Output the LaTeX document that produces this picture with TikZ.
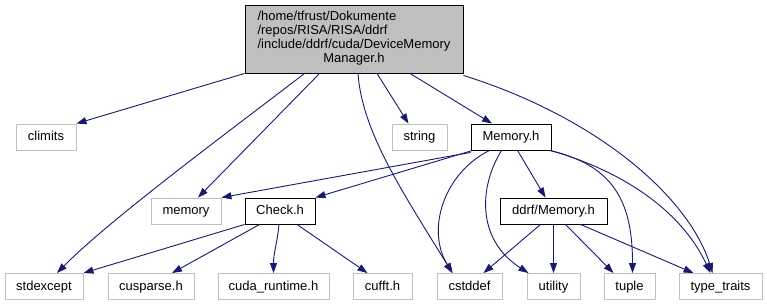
\documentclass[tikz,border=0pt]{standalone}
\usepackage{fontspec}
\setmainfont{Liberation Sans}
\usetikzlibrary{arrows.meta}
\definecolor{edgeblue}{RGB}{25,25,112}
\definecolor{boxgray}{RGB}{191,191,191}
\begin{document}
\begin{tikzpicture}[x=1pt,y=-1pt,
  font=\fontsize{13}{13.9}\selectfont,
  filebox/.style={draw=black,line width=0.9pt,rectangle,inner sep=0pt,
    text height=10pt,text depth=2.6pt,minimum height=26pt},
  sysbox/.style={filebox,draw=boxgray},
  dep/.style={draw=edgeblue,line width=0.9pt,-{Triangle[length=10pt,width=7pt]}}]
\useasboundingbox (0,0) rectangle (767,305);

% header under inspection
\node[draw=black,fill=boxgray,line width=0.9pt,inner sep=0pt,
  minimum width=218pt,minimum height=68pt] (root) at (354,39)
  {\begin{tabular}{@{}l@{}}/home/tfrust/Dokumente\\/repos/RISA/RISA/ddrf\\
   /include/ddrf/cuda/DeviceMemory\\\multicolumn{1}{@{}c@{}}{Manager.h}\end{tabular}};

% second row
\node[sysbox,minimum width=60pt] (climits) at (46,137) {climits};
\node[sysbox,minimum width=55pt] (string) at (419.5,137) {string};
\node[filebox,minimum width=80pt] (memh) at (511,137) {Memory.h};

% third row
\node[sysbox,minimum width=70pt] (memory) at (186,211) {memory};
\node[filebox,minimum width=70pt] (check) at (280,211) {Check.h};
\node[filebox,minimum width=107pt] (ddrfmem) at (553.5,211) {ddrf/Memory.h};

% bottom row
\node[sysbox,minimum width=78pt] (stdexcept) at (44,286.5) {stdexcept};
\node[sysbox,minimum width=86pt] (cusparse) at (151,286.5) {cusparse.h};
\node[sysbox,minimum width=111pt] (cudart) at (273.5,286.5) {cuda\_runtime.h};
\node[sysbox,minimum width=59pt] (cufft) at (382.5,286.5) {cufft.h};
\node[sysbox,minimum width=65pt] (cstddef) at (469.5,286.5) {cstddef};
\node[sysbox,minimum width=53pt] (utility) at (553.5,286.5) {utility};
\node[sysbox,minimum width=51pt] (tuple) at (629.5,286.5) {tuple};
\node[sysbox,minimum width=83pt] (typetraits) at (720.5,286.5) {type\_traits};

% includes of the header
\draw[dep] (root.south west) -- (climits.north east);
\draw[dep] ([xshift=60pt]root.south west) .. controls +(-65,50) and +(53,-54) .. ([xshift=13pt]stdexcept.north);
\draw[dep] ([xshift=75pt]root.south west) -- ([xshift=12pt]memory.north);
\draw[dep] ([xshift=4pt]root.south) .. controls +(4,57) and +(-52,-84) .. ([xshift=-17pt]cstddef.north);
\draw[dep] ([xshift=23pt]root.south) -- ([xshift=-11pt]string.north);
\draw[dep] ([xshift=56pt]root.south) -- ([xshift=-19pt]memh.north);
\draw[dep] ([yshift=-2pt]root.south east) .. controls +(137,43) and +(-23,-74) .. ([xshift=-8pt]typetraits.north);

% includes of Memory.h
\draw[dep] ([yshift=-2pt]memh.south west) -- (memory.north east);
\draw[dep] ([xshift=2pt]memh.south west) -- (check.north east);
\draw[dep] ([xshift=19pt]memh.south west) .. controls +(-45,22) and +(-27,-44) .. ([xshift=-17pt]cstddef.north);
\draw[dep] ([xshift=31pt]memh.south west) .. controls +(-22,35) and +(-53,-34) .. ([xshift=-25pt]utility.north);
\draw[dep] ([xshift=47pt]memh.south west) -- ([xshift=-8pt]ddrfmem.north);
\draw[dep] ([xshift=-2pt]memh.south east) .. controls +(66,15) and +(0,-69) .. ([xshift=3pt]tuple.north);
\draw[dep] ([xshift=-1pt]memh.south east) .. controls +(70,20) and +(-30,-64) .. ([xshift=-10pt]typetraits.north);

% includes of Check.h
\draw[dep] (check.south west) -- (stdexcept.north east);
\draw[dep] ([xshift=15pt]check.south west) -- ([xshift=21pt]cusparse.north);
\draw[dep] ([xshift=-1pt]check.south) .. controls +(-2,20) and +(0,-20) .. (cudart.north);
\draw[dep] ([xshift=17pt]check.south) -- ([xshift=-15pt]cufft.north);

% includes of ddrf/Memory.h
\draw[dep] ([xshift=-13pt]ddrfmem.south) -- ([xshift=14pt]cstddef.north);
\draw[dep] (ddrfmem.south) -- (utility.north);
\draw[dep] ([xshift=12pt]ddrfmem.south) -- ([xshift=-16pt]tuple.north);
\draw[dep] ([xshift=27pt]ddrfmem.south) -- ([xshift=-27pt]typetraits.north);
\end{tikzpicture}
\end{document}
